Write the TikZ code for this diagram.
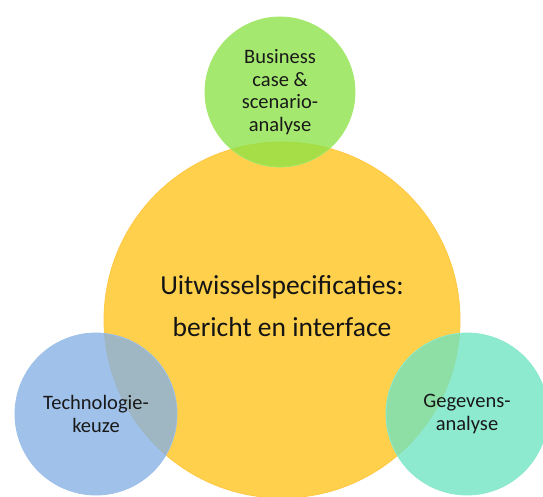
\documentclass[tikz,border=0pt]{standalone}
\usepackage{fontspec}
\setmainfont{Carlito}
\begin{document}
\begin{tikzpicture}[x=1pt,y=-1pt,
  bubble/.style={circle, inner sep=0pt, fill opacity=0.78, text opacity=1, align=center,
     font=\fontsize{20.5}{22.5}\selectfont, text=black!90},
  core/.style={circle, inner sep=0pt, fill=coreyellow, draw=coreyellow!90!orange, line width=0.8pt},
  coretext/.style={align=center, inner sep=0pt, font=\fontsize{27.5}{42}\selectfont, text=black!92}]
\definecolor{coreyellow}{RGB}{255,208,76}
\definecolor{bgreen}{RGB}{140,226,70}
\definecolor{bblue}{RGB}{132,176,228}
\definecolor{bteal}{RGB}{110,228,192}
\useasboundingbox (0,0) rectangle (543,496);
\node[core, minimum size=356pt] (spec) at (282,320) {};
\node[coretext] (spectext) at (282,306) {Uitwisselspecificaties:\\bericht en interface};
\node[bubble, fill=bgreen, draw=bgreen!80!white, line width=0.8pt, minimum size=150pt] (bus) at (280,92) {Business\\case \&\\scenario-\\analyse};
\node[bubble, fill=bblue, draw=bblue!80!white, line width=0.8pt, minimum size=162pt] (tech) at (96,414) {Technologie-\\keuze};
\node[bubble, fill=bteal, draw=bteal!80!white, line width=0.8pt, minimum size=162pt] (geg) at (467,414) {Gegevens-\\analyse};
\end{tikzpicture}
\end{document}
